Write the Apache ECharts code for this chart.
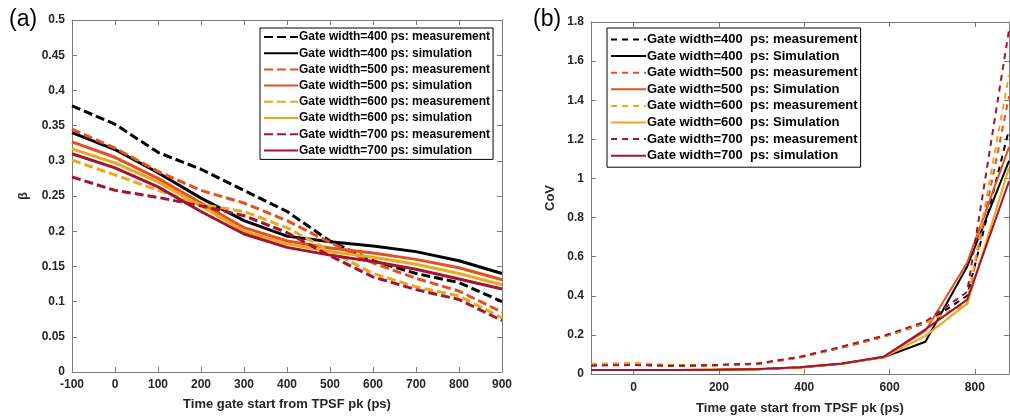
<!DOCTYPE html>
<html>
<head>
<meta charset="utf-8">
<script src="https://cdn.jsdelivr.net/npm/echarts@6/dist/echarts.min.js"></script>
<style>html,body{margin:0;padding:0;background:#fff;}#c{width:1010px;height:420px;}</style>
</head>
<body>
<div id="c"></div>
<script>
// ---- Data ----
const xA = [-100, 0, 100, 200, 300, 400, 500, 600, 700, 800, 900];
const betaMeas400 = [0.378, 0.352, 0.312, 0.288, 0.258, 0.228, 0.186, 0.158, 0.140, 0.127, 0.100];
const betaSim400  = [0.340, 0.316, 0.283, 0.247, 0.215, 0.193, 0.185, 0.179, 0.171, 0.158, 0.140];
const betaMeas500 = [0.345, 0.318, 0.285, 0.258, 0.240, 0.215, 0.184, 0.155, 0.133, 0.115, 0.085];
const betaSim500  = [0.327, 0.305, 0.275, 0.240, 0.205, 0.186, 0.176, 0.169, 0.160, 0.148, 0.131];
const betaMeas600 = [0.301, 0.280, 0.258, 0.238, 0.228, 0.205, 0.172, 0.140, 0.121, 0.108, 0.077];
const betaSim600  = [0.317, 0.297, 0.270, 0.236, 0.200, 0.182, 0.171, 0.163, 0.153, 0.140, 0.124];
const betaMeas700 = [0.277, 0.258, 0.248, 0.236, 0.222, 0.198, 0.165, 0.135, 0.117, 0.103, 0.073];
const betaSim700  = [0.310, 0.290, 0.263, 0.228, 0.196, 0.177, 0.166, 0.157, 0.146, 0.132, 0.118];

const xB = [-100, -2, 96, 194, 292, 390, 488, 586, 684, 782, 880];
const covMeas400 = [0.045, 0.047, 0.042, 0.045, 0.052, 0.085, 0.135, 0.190, 0.260, 0.40, 1.25];
const covSim400  = [0.020, 0.020, 0.020, 0.022, 0.024, 0.033, 0.052, 0.085, 0.165, 0.55, 1.09];
const covMeas500 = [0.045, 0.048, 0.042, 0.045, 0.052, 0.086, 0.138, 0.192, 0.265, 0.36, 1.42];
const covSim500  = [0.020, 0.020, 0.020, 0.022, 0.024, 0.034, 0.053, 0.088, 0.220, 0.57, 1.16];
const covMeas600 = [0.052, 0.057, 0.045, 0.045, 0.052, 0.085, 0.136, 0.190, 0.262, 0.36, 1.53];
const covSim600  = [0.020, 0.020, 0.020, 0.022, 0.024, 0.033, 0.052, 0.085, 0.195, 0.36, 1.055];
const covMeas700 = [0.043, 0.046, 0.042, 0.046, 0.054, 0.088, 0.140, 0.195, 0.268, 0.42, 1.76];
const covSim700  = [0.020, 0.020, 0.020, 0.022, 0.025, 0.034, 0.054, 0.088, 0.228, 0.38, 0.985];

const namesA = [
  'Gate width=400 ps: measurement', 'Gate width=400 ps: simulation',
  'Gate width=500 ps: measurement', 'Gate width=500 ps: simulation',
  'Gate width=600 ps: measurement', 'Gate width=600 ps: simulation',
  'Gate width=700 ps: measurement', 'Gate width=700 ps: simulation'
];
const namesB = [
  'Gate width=400  ps: measurement', 'Gate width=400  ps: Simulation',
  'Gate width=500  ps: measurement', 'Gate width=500  ps: Simulation',
  'Gate width=600  ps: measurement', 'Gate width=600  ps: Simulation',
  'Gate width=700  ps: measurement', 'Gate width=700  ps: simulation'
];
const xTicksB = [0, 200, 400, 600, 800];

// ---- Styles ----
const colors = ['#000000', '#000000', '#E5501E', '#E5501E', '#EDA61E', '#EDA61E', '#A2142F', '#A2142F'];
const FONT = 'Liberation Sans, Arial, sans-serif';
const AX = '#7a7a7a';
const seriesA = [betaMeas400, betaSim400, betaMeas500, betaSim500, betaMeas600, betaSim600, betaMeas700, betaSim700];
const seriesB = [covMeas400, covSim400, covMeas500, covSim500, covMeas600, covSim600, covMeas700, covSim700];

function pairs(xs, ys) { return xs.map((x, i) => [x, ys[i]]); }

const series = [];
seriesA.forEach((ys, i) => series.push({
  name: namesA[i], type: 'line', xAxisIndex: 0, yAxisIndex: 0,
  data: pairs(xA, ys), symbol: 'none', silent: true, animation: false,
  lineStyle: { color: colors[i], width: 3, type: i % 2 === 0 ? [9, 4] : 'solid' },
  itemStyle: { color: colors[i] }
}));
seriesB.forEach((ys, i) => series.push({
  name: namesB[i], type: 'line', xAxisIndex: 2, yAxisIndex: 2,
  data: pairs(xB, ys), symbol: 'none', silent: true, animation: false,
  lineStyle: { color: colors[i], width: 2, type: i % 2 === 0 ? [6, 5] : 'solid' },
  itemStyle: { color: colors[i] }
}));

const labelStyle = { color: '#262626', fontFamily: FONT, fontWeight: 'bold', fontSize: 12 };
const nameStyle = { color: '#262626', fontFamily: FONT, fontWeight: 'bold', fontSize: 13 };
const axLine = { show: true, onZero: false, lineStyle: { color: AX, width: 1 } };

function xAx(grid, min, max, opts, top) {
  return Object.assign({
    type: 'value', gridIndex: grid, min: min, max: max, position: top ? 'top' : 'bottom',
    axisLine: axLine, splitLine: { show: false },
    axisTick: { show: true, inside: true, length: 5, lineStyle: { color: AX } },
    axisLabel: top ? { show: false } : Object.assign({ margin: 7 }, labelStyle)
  }, opts);
}
function yAx(grid, min, max, opts, right) {
  return Object.assign({
    type: 'value', gridIndex: grid, min: min, max: max, position: right ? 'right' : 'left',
    axisLine: axLine, splitLine: { show: false },
    axisTick: { show: true, inside: true, length: 5, lineStyle: { color: AX } },
    axisLabel: right ? { show: false } : Object.assign({ margin: 7 }, labelStyle)
  }, opts);
}

const option = {
  backgroundColor: '#fff',
  animation: false,
  title: [
    { text: '(a)', left: 4, top: 3, textStyle: { fontFamily: FONT, fontWeight: 'normal', fontSize: 23, color: '#000' } },
    { text: '(b)', left: 528, top: 3, textStyle: { fontFamily: FONT, fontWeight: 'normal', fontSize: 23, color: '#000' } }
  ],
  grid: [
    { left: 72, right: 508, top: 20, bottom: 48 },
    { left: 591, right: 1, top: 22, bottom: 46 }
  ],
  xAxis: [
    xAx(0, -100, 900, { interval: 100, name: 'Time gate start from TPSF pk (ps)', nameLocation: 'middle', nameGap: 26, nameTextStyle: nameStyle }),
    xAx(0, -100, 900, { interval: 100 }, true),
    xAx(1, -100, 880, {
      name: 'Time gate start from TPSF pk (ps)', nameLocation: 'middle', nameGap: 28, nameTextStyle: nameStyle,
      axisLabel: Object.assign({ margin: 8, customValues: xTicksB }, labelStyle),
      axisTick: { show: true, inside: true, length: 5, lineStyle: { color: AX }, customValues: xTicksB }
    }),
    xAx(1, -100, 880, {
      axisTick: { show: true, inside: true, length: 5, lineStyle: { color: AX }, customValues: xTicksB }
    }, true)
  ],
  yAxis: [
    yAx(0, 0, 0.5, { interval: 0.05, name: 'β', nameLocation: 'middle', nameGap: 42, nameRotate: 90, nameTextStyle: nameStyle }),
    yAx(0, 0, 0.5, { interval: 0.05 }, true),
    yAx(1, 0, 1.8, { interval: 0.2, name: 'CoV', nameLocation: 'middle', nameGap: 34, nameRotate: 90, nameTextStyle: nameStyle }),
    yAx(1, 0, 1.8, { interval: 0.2 }, true)
  ],
  legend: [
    {
      data: namesA, orient: 'vertical', left: 260, top: 28, itemWidth: 34, itemHeight: 12, itemGap: 4.2,
      padding: [3, 3, 3, 3], borderColor: '#000', borderWidth: 1, backgroundColor: '#fff',
      selectedMode: false, itemStyle: { opacity: 0 },
      textStyle: { fontFamily: FONT, fontWeight: 'bold', fontSize: 12, color: '#000', padding: [0, 0, 0, -4] }
    },
    {
      data: namesB, orient: 'vertical', left: 607, top: 28, itemWidth: 35, itemHeight: 12, itemGap: 3.6,
      padding: [5, 3, 5, 3], borderColor: '#000', borderWidth: 1, backgroundColor: '#fff',
      selectedMode: false, itemStyle: { opacity: 0 },
      textStyle: { fontFamily: FONT, fontWeight: 'bold', fontSize: 13, color: '#000', padding: [0, 0, 0, -4] }
    }
  ],
  series: series
};

const chart = echarts.init(document.getElementById('c'), null, { renderer: 'canvas' });
chart.setOption(option);
</script>
</body>
</html>
